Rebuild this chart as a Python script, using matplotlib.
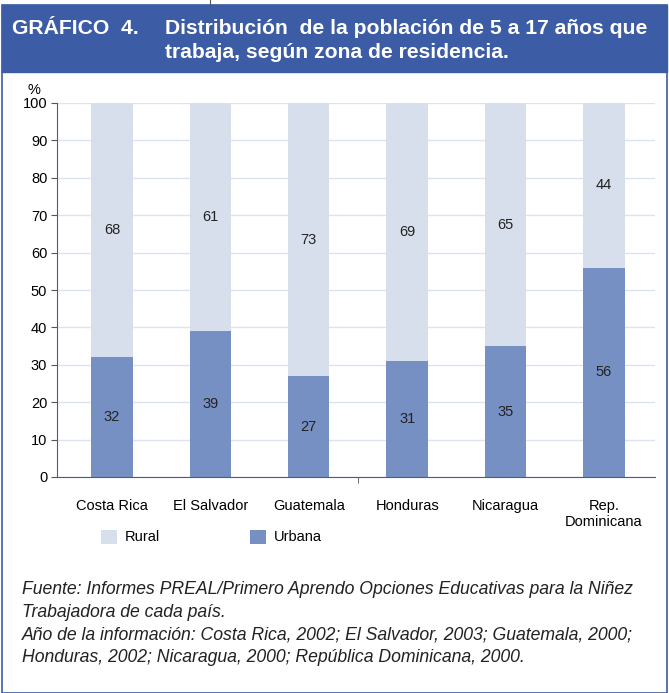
import matplotlib.pyplot as plt
from matplotlib.patches import Rectangle
from matplotlib.lines import Line2D
import numpy as np

# === DATA ===
countries = ["Costa Rica", "El Salvador", "Guatemala", "Honduras", "Nicaragua", "Rep.\nDominicana"]
urbana = [32, 39, 27, 31, 35, 56]
rural = [68, 61, 73, 69, 65, 44]

blue_dark = "#3d5ca6"
c_rural = "#d7dfec"
c_urbana = "#7790c3"

plt.rcParams['font.family'] = ['Liberation Sans', 'DejaVu Sans']

W, H = 669, 693
fig = plt.figure(figsize=(W / 100, H / 100), dpi=100)

# frame and header band
fig.patches.append(Rectangle((2 / W, 0), 665 / W, 688 / H, transform=fig.transFigure,
                             fill=False, edgecolor=blue_dark, lw=1.2))
fig.patches.append(Rectangle((2 / W, (H - 72) / H), 665 / W, 67 / H, transform=fig.transFigure,
                             facecolor=blue_dark, edgecolor=blue_dark))
fig.lines.append(Line2D([210 / W, 210 / W], [1 - 5 / H, 1], transform=fig.transFigure,
                        color="#555555", lw=0.8))
fig.text(12 / W, 1 - 29 / H, "GRÁFICO  4.", color="white", fontsize=15.2, weight="bold", va="center")
fig.text(165 / W, 1 - 29 / H, "Distribución  de la población de 5 a 17 años que",
         color="white", fontsize=15.2, weight="bold", va="center")
fig.text(165 / W, 1 - 53 / H, "trabaja, según zona de residencia.",
         color="white", fontsize=15.2, weight="bold", va="center")

# === PLOT ===
ax = fig.add_axes([57 / W, (H - 477) / H, 598 / W, 374 / H])
x = np.arange(len(countries))
bw = 0.42
ax.bar(x, urbana, bw, color=c_urbana, label="Urbana", zorder=2)
ax.bar(x, rural, bw, bottom=urbana, color=c_rural, label="Rural", zorder=2)

for i in range(len(countries)):
    ax.text(x[i], urbana[i] / 2, str(urbana[i]), ha="center", va="center", fontsize=10.5, color="#222222")
    ax.text(x[i], urbana[i] + rural[i] / 2, str(rural[i]), ha="center", va="center", fontsize=10.5, color="#222222")

ax.set_xlim(-0.56, len(countries) - 0.48)
ax.set_ylim(0, 100)
ax.set_yticks(range(0, 101, 10))
ax.tick_params(axis="y", labelsize=10.5, length=4, color="#555555", pad=3)
ax.set_xticks(x)
ax.set_xticklabels(countries, fontsize=10.5)
ax.tick_params(axis="x", length=0, pad=16)
ax.set_xticks([2.5], minor=True)
ax.tick_params(axis="x", which="minor", length=4, color="#555555")
ax.grid(axis="y", color="#dde4f0", lw=1, zorder=0)
ax.set_axisbelow(True)
for s in ["top", "right"]:
    ax.spines[s].set_visible(False)
ax.spines["left"].set_color(blue_dark)
ax.spines["bottom"].set_color(blue_dark)
ax.spines["bottom"].set_zorder(3)
ax.text(-0.05, 101.5, "%", transform=ax.get_yaxis_transform(), ha="left", va="bottom", fontsize=10.5)

# legend
handles, labels = ax.get_legend_handles_labels()
leg = fig.legend(handles[::-1], labels[::-1], loc="center left", bbox_to_anchor=(88 / W, 1 - 537 / H),
                 ncol=2, frameon=False, fontsize=10.5, handlelength=1.1, handleheight=1.1,
                 columnspacing=6.2, handletextpad=0.5)

# footer
notes = ("Fuente: Informes PREAL/Primero Aprendo Opciones Educativas para la Niñez\n"
         "Trabajadora de cada país.\n"
         "Año de la información: Costa Rica, 2002; El Salvador, 2003; Guatemala, 2000;\n"
         "Honduras, 2002; Nicaragua, 2000; República Dominicana, 2000.")
fig.text(22 / W, 1 - 581 / H, notes, fontsize=12.7, style="italic", va="top", linespacing=1.43, color="#222222")

plt.savefig("out.png", dpi=100)
